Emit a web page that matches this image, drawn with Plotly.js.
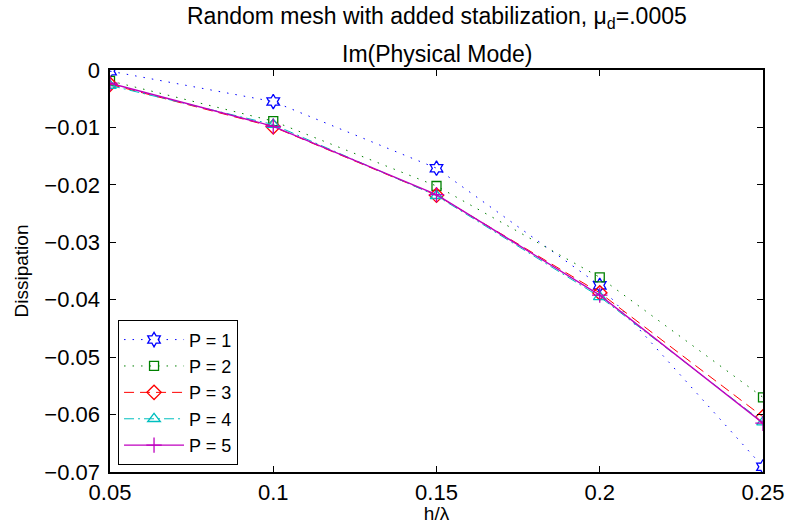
<!DOCTYPE html>
<html>
<head>
<meta charset="utf-8">
<script src="https://cdn.plot.ly/plotly-3.0.1.min.js"></script>
<style>body{margin:0;padding:0;background:#fff}#chart{width:788px;height:524px}</style>
</head>
<body>
<div id="chart"></div>
<script>
var hOverLambda = [0.05, 0.1, 0.15, 0.2, 0.25];
var p1 = [-0.0002, -0.0055, -0.0171, -0.0375, -0.0691];
var p2 = [-0.0019, -0.0089, -0.0202, -0.0361, -0.0570];
var p3 = [-0.0025, -0.0099, -0.0218, -0.0388, -0.0604];
var p4 = [-0.0027, -0.0095, -0.0219, -0.0395, -0.0613];
var p5 = [-0.0023, -0.0098, -0.0217, -0.0392, -0.0615];
var seriesNames = ['P = 1', 'P = 2', 'P = 3', 'P = 4', 'P = 5'];
var yTicks = [0, -0.01, -0.02, -0.03, -0.04, -0.05, -0.06, -0.07];
var yTickText = ['0', '\u22120.01', '\u22120.02', '\u22120.03', '\u22120.04', '\u22120.05', '\u22120.06', '\u22120.07'];
var xTicks = [0.05, 0.1, 0.15, 0.2, 0.25];
var xTickText = ['0.05', '0.1', '0.15', '0.2', '0.25'];
var titleLine1 = 'Random mesh with added stabilization, \u03bc<sub>d</sub>=.0005';
var titleLine2 = 'Im(Physical Mode)';

var styles = [
  {color: 'rgb(0,0,255)', dash: '1.5px,7px', symbol: 'hexagram-open', size: 11, width: 1},
  {color: 'rgb(0,128,0)', dash: '1.5px,7px', symbol: 'square-open', size: 9, width: 1},
  {color: 'rgb(255,0,0)', dash: '10px,6px', symbol: 'diamond-open', size: 11, width: 1},
  {color: 'rgb(0,191,191)', dash: '10px,4px,2px,4px', symbol: 'triangle-up-open', size: 11, width: 1},
  {color: 'rgb(191,0,191)', dash: 'solid', symbol: 'cross-thin-open', size: 11, width: 1.3}
];
var ys = [p1, p2, p3, p4, p5];
var traces = ys.map(function (y, i) {
  var s = styles[i];
  return {
    x: hOverLambda, y: y, name: seriesNames[i], type: 'scatter', mode: 'lines+markers',
    line: {color: s.color, dash: s.dash, width: s.width},
    marker: {symbol: s.symbol, size: s.size, color: s.color, line: {color: s.color, width: 1.3}}
  };
});

var fontFam = 'Liberation Sans, Arial, sans-serif';
var layout = {
  width: 788, height: 524,
  margin: {l: 110, r: 25, t: 70, b: 52},
  paper_bgcolor: '#fff', plot_bgcolor: '#fff',
  font: {family: fontFam, size: 20, color: '#000'},
  showlegend: true,
  annotations: [
    {text: titleLine1, xref: 'paper', yref: 'paper', x: 0.5, y: 1.13, xanchor: 'center', yanchor: 'middle',
     showarrow: false, font: {family: fontFam, size: 23, color: '#000'}},
    {text: titleLine2, xref: 'paper', yref: 'paper', x: 0.5, y: 1.04, xanchor: 'center', yanchor: 'middle',
     showarrow: false, font: {family: fontFam, size: 23, color: '#000'}}
  ],
  xaxis: {
    range: [0.05, 0.25], tickvals: xTicks, ticktext: xTickText,
    showline: true, linecolor: '#000', linewidth: 1.6, mirror: 'ticks',
    ticks: 'inside', ticklen: 6, tickcolor: '#000', showgrid: false, zeroline: false,
    tickfont: {family: fontFam, size: 22, color: '#000'},
    title: {text: 'h/\u03bb', font: {family: fontFam, size: 19, color: '#000'}, standoff: 0}
  },
  yaxis: {
    range: [-0.07, 0], tickvals: yTicks, ticktext: yTickText,
    showline: true, linecolor: '#000', linewidth: 1.6, mirror: 'ticks',
    ticks: 'inside', ticklen: 6, tickcolor: '#000', showgrid: false, zeroline: false,
    tickfont: {family: fontFam, size: 22, color: '#000'}, ticklabelstandoff: 4,
    title: {text: 'Dissipation', font: {family: fontFam, size: 19, color: '#000'}, standoff: 10}
  },
  legend: {
    x: 0.012, y: 0.017, xanchor: 'left', yanchor: 'bottom',
    bgcolor: '#fff', bordercolor: '#000', borderwidth: 1.2,
    font: {family: fontFam, size: 18, color: '#000'},
    tracegroupgap: 0, itemwidth: 60
  }
};
Plotly.newPlot('chart', traces, layout, {displayModeBar: false, staticPlot: true});
</script>
</body>
</html>
